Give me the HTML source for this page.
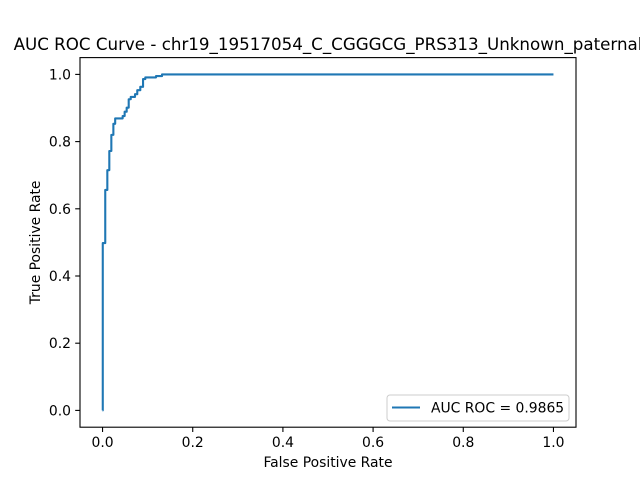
<!DOCTYPE html>
<html><head><meta charset="utf-8"><style>
body{margin:0;background:#fff}
svg{display:block;font-family:"DejaVu Sans","Liberation Sans",sans-serif}
</style></head><body>
<svg id="chart" width="640" height="480">
<rect width="640" height="480" fill="#fff"/>
<text x="328" y="50" font-size="16.7" text-anchor="middle">AUC ROC Curve - chr19_19517054_C_CGGGCG_PRS313_Unknown_paternal</text>
<g id="xt"></g>
<g id="yt"></g>
<path id="curve" fill="none" stroke="#1f77b4" stroke-width="2.1" stroke-linejoin="round"/>
<rect x="80" y="57.6" width="496" height="369.6" fill="none" stroke="#000" stroke-width="1.1"/>
<text x="328" y="467" font-size="13.9" text-anchor="middle">False Positive Rate</text>
<text transform="translate(40,242.4) rotate(-90)" font-size="13.9" text-anchor="middle">True Positive Rate</text>
<g>
<rect x="387" y="395" width="182" height="26" rx="3" fill="#fff" stroke="#ccc" stroke-width="1"/>
<line x1="392" y1="407.5" x2="420" y2="407.5" stroke="#1f77b4" stroke-width="2.1"/>
<text x="431" y="412.5" font-size="13.9">AUC ROC = 0.9865</text>
</g>
</svg>
<script>
const fpr=[0,0.0005,0.0005,0.006,0.006,0.0106,0.0106,0.015,0.015,0.0195,0.0195,0.024,0.024,0.028,0.028,0.0446,0.0446,0.049,0.049,0.0535,0.0535,0.058,0.058,0.0625,0.0625,0.072,0.072,0.077,0.077,0.0837,0.0837,0.0898,0.0898,0.0948,0.0948,0.1186,0.1186,0.1319,0.1319,1];
const tpr=[0,0,0.498,0.498,0.656,0.656,0.715,0.715,0.772,0.772,0.82,0.82,0.853,0.853,0.869,0.869,0.876,0.876,0.889,0.889,0.901,0.901,0.926,0.926,0.933,0.933,0.941,0.941,0.953,0.953,0.963,0.963,0.986,0.986,0.991,0.991,0.995,0.995,1,1];
const ticks=[0,0.2,0.4,0.6,0.8,1.0];
const tickLabels=["0.0","0.2","0.4","0.6","0.8","1.0"];
const X=v=>80+496*(v+0.05)/1.1, Y=v=>427.2-369.6*(v+0.05)/1.1;
const NS="http://www.w3.org/2000/svg";
let d="";fpr.forEach((f,i)=>{d+=(i?"L":"M")+X(f).toFixed(2)+","+Y(tpr[i]).toFixed(2);});
document.getElementById("curve").setAttribute("d",d);
const xt=document.getElementById("xt"),yt=document.getElementById("yt");
ticks.forEach((t,i)=>{
 let l=document.createElementNS(NS,"line");l.setAttribute("x1",X(t));l.setAttribute("x2",X(t));l.setAttribute("y1",427.2);l.setAttribute("y2",432);l.setAttribute("stroke","#000");l.setAttribute("stroke-width","1.1");
 
 
 xt.appendChild(l);
 let tx=document.createElementNS(NS,"text");tx.setAttribute("x",X(t));tx.setAttribute("y",447);tx.setAttribute("font-size","13.9");tx.setAttribute("text-anchor","middle");tx.textContent=tickLabels[i];
 
 
 xt.appendChild(tx);
 let m=document.createElementNS(NS,"line");m.setAttribute("x1",75.2);m.setAttribute("x2",80);m.setAttribute("y1",Y(t));m.setAttribute("y2",Y(t));m.setAttribute("stroke","#000");m.setAttribute("stroke-width","1.1");
 
 
 yt.appendChild(m);
 let ty=document.createElementNS(NS,"text");ty.setAttribute("x",71);ty.setAttribute("y",Y(t)+5);ty.setAttribute("font-size","13.9");ty.setAttribute("text-anchor","end");ty.textContent=tickLabels[i];
 
 
 yt.appendChild(ty);
});
</script>
</body></html>
